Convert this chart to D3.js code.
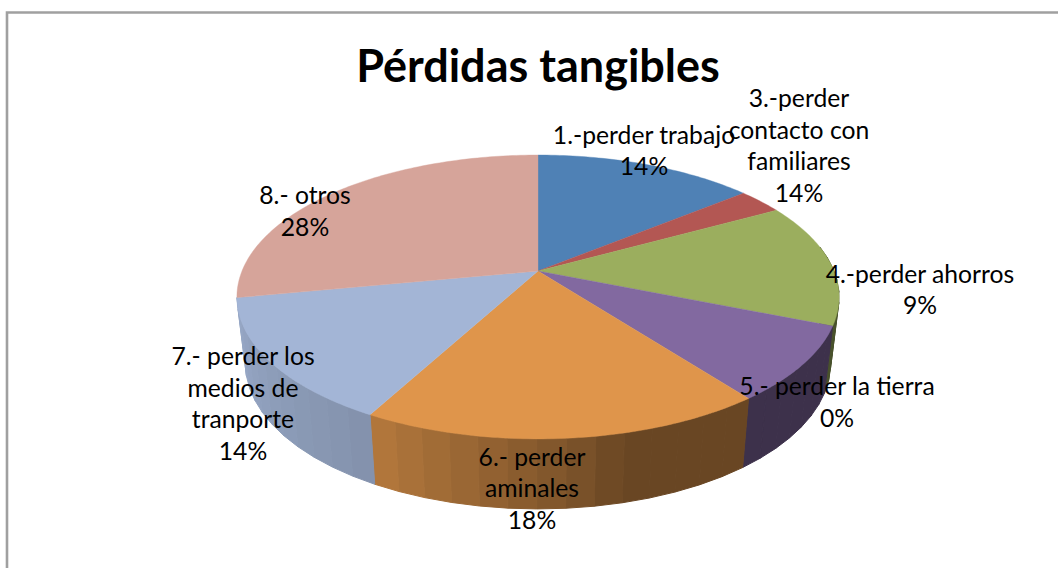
<!DOCTYPE html>
<html>
<head>
<meta charset="utf-8">
<script src="https://cdn.jsdelivr.net/npm/d3@7"></script>
<style>
html,body{margin:0;padding:0;background:#fff;overflow:hidden}
svg{display:block}
text{font-family:Lato,"Open Sans",sans-serif;fill:#000}
</style>
</head>
<body>
<svg id="chart" width="1058" height="568"></svg>
<script>
const chartTitle = "Pérdidas tangibles";
const categories = [
  "1.-perder trabajo",
  "",
  "3.-perder contacto con familiares",
  "4.-perder ahorros",
  "5.- perder la tierra",
  "6.- perder aminales",
  "7.- perder los medios de tranporte",
  "8.- otros"
];
const values = [14.1, 2.9, 14.1, 8.5, 0, 18.3, 14.1, 28];
const labelledPercents = ["14%", "", "14%", "9%", "0%", "18%", "14%", "28%"];
const sliceColors = ["#4f81b5", "#b35753", "#9bae5e", "#8269a0", "#8269a0", "#df954b", "#a3b5d6", "#d6a49a"];

// layout (not data)
const W = 1058, H = 568;
const labelLayout = [
  {x: 644, y: 143.5, lines: ["1.-perder trabajo"]},
  null,
  {x: 799, y: 107, lines: ["3.-perder", "contacto con", "familiares"]},
  {x: 920, y: 282.5, lines: ["4.-perder ahorros"]},
  {x: 837, y: 395, lines: ["5.- perder la tierra"]},
  {x: 532, y: 465.5, lines: ["6.- perder", "aminales"]},
  {x: 243, y: 365, lines: ["7.- perder los", "medios de", "tranporte"]},
  {x: 305, y: 204, lines: ["8.- otros"]}
];
const LINE = 31.6;

const svg = d3.select("#chart");

// frame
svg.append("rect").attr("width", W).attr("height", H).attr("fill", "#fff");
svg.append("path")
  .attr("d", d3.line()([[7, H], [7, 12.5], [W, 12.5]]))
  .attr("fill", "none").attr("stroke", "#a0a0a0").attr("stroke-width", 2.6);

// perspective projection of a unit disc
const cx = 538, cy = 271, persp = 0.183, bY = 137.2, cX = 296;
function projectTop(theta) {
  const u = Math.sin(theta), v = -Math.cos(theta), w = 1 - persp * v;
  return [cx + cX * u / w, cy + bY * v / w];
}
function projectBottom(theta) {
  const [x, y] = projectTop(theta);
  const v = -Math.cos(theta);
  return [cx + (x - cx) * 0.972, y + 65.5 + 4.5 * v];
}
const shade = d3.scaleLinear()
  .domain([80, 165, 180, 207, 260])
  .range([0.47, 0.47, 0.6, 0.8, 0.93])
  .clamp(true);

const arcs = d3.pie().sort(null).startAngle(0).endAngle(2 * Math.PI)(values);
const pathLine = d3.line();
const DEG = Math.PI / 180;

function sampleAngles(a0, a1, step) {
  const n = Math.max(1, Math.ceil((a1 - a0) / step));
  return d3.range(n + 1).map(i => a0 + (a1 - a0) * i / n);
}

// side wall: drawn as narrow strips, producing the banded look
const wallGroup = svg.append("g");
arcs.forEach((a, i) => {
  if (a.value === 0) return;
  const strips = sampleAngles(a.startAngle, a.endAngle, 5 * DEG);
  d3.pairs(strips).forEach(([t0, t1]) => {
    const mid = (t0 + t1) / 2 / DEG;
    if (mid < 80 || mid > 260) return;
    const base = d3.rgb(sliceColors[i]);
    const k = shade(mid);
    const col = d3.rgb(base.r * k, base.g * k, base.b * k).formatHex();
    wallGroup.append("path")
      .attr("d", pathLine([projectTop(t0), projectTop(t1), projectBottom(t1), projectBottom(t0)]) + "Z")
      .attr("fill", col).attr("stroke", col).attr("stroke-width", 1);
  });
});

// top face
const topGroup = svg.append("g");
arcs.forEach((a, i) => {
  if (a.value === 0) return;
  const pts = sampleAngles(a.startAngle, a.endAngle, 1 * DEG).map(projectTop);
  topGroup.append("path")
    .attr("d", pathLine([[cx, cy], ...pts]) + "Z")
    .attr("fill", sliceColors[i]).attr("stroke", sliceColors[i]).attr("stroke-width", 0.4);
});

// title
svg.append("text").attr("x", 538).attr("y", 82)
  .attr("text-anchor", "middle").attr("font-size", 45).attr("font-weight", 700)
  .text(chartTitle);

// data labels
const labelGroup = svg.append("g").attr("font-size", 24.7);
labelLayout.forEach((l, i) => {
  if (!l) return;
  const rows = [...l.lines, labelledPercents[i]];
  rows.forEach((row, j) => {
    labelGroup.append("text")
      .attr("x", l.x).attr("y", l.y + j * LINE)
      .attr("text-anchor", "middle").text(row);
  });
});
</script>
</body>
</html>
